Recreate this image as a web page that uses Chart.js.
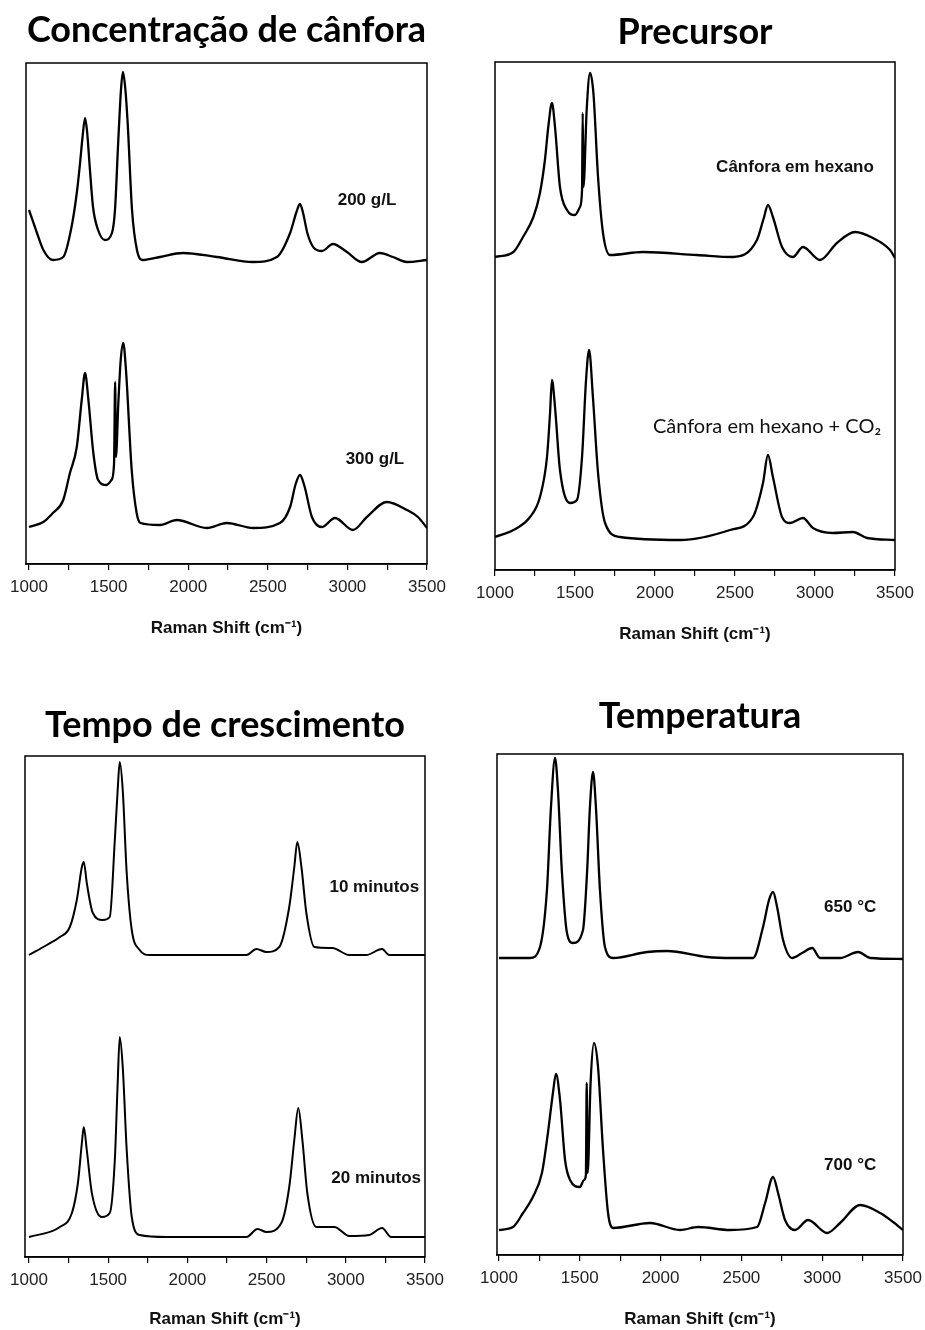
<!DOCTYPE html>
<html>
<head>
<meta charset="utf-8">
<script src="https://cdn.jsdelivr.net/npm/chart.js@4"></script>
<style>
  body { margin: 0; background: #fff; width: 925px; height: 1330px; position: relative; overflow: hidden; }
  .panel { position: absolute; }
</style>
</head>
<body>
<div class="panel" id="p1"><canvas id="c1"></canvas></div>
<div class="panel" id="p2"><canvas id="c2"></canvas></div>
<div class="panel" id="p3"><canvas id="c3"></canvas></div>
<div class="panel" id="p4"><canvas id="c4"></canvas></div>
<script>
// Raman shift (cm-1) and intensity (a.u.)
const conc200X = [1000,1050,1090,1150,1215,1267,1300,1320,1335,1352,1365,1380,1402,1434,1477,1521,1540,1560,1578,1590,1605,1620,1647,1678,1716,1822,1967,2180,2407,2557,2640,2680,2702,2720,2750,2790,2840,2909,2997,3091,3204,3286,3374,3500];
const conc200Y = [354,331,314,304,307,337,371,400,425,446,432,400,357,334,324,331,354,421,475,492,475,440,354,314,304,307,311,307,302,307,331,352,360,352,330,316,313,320,312,302,311,307,302,304];
const conc300X = [1000,1090,1150,1215,1257,1300,1331,1352,1373,1404,1434,1487,1518,1534,1541,1546,1561,1576,1592,1609,1645,1676,1700,1822,1928,2117,2243,2407,2576,2640,2675,2702,2730,2777,2840,2922,3035,3122,3248,3374,3443,3500];
const conc300Y = [37,42,51,64,91,117,164,191,164,111,84,79,84,100,182,107,161,204,221,194,94,51,41,39,44,36,41,36,41,57,80,89,78,47,37,46,34,47,62,54,47,36];

const hexX = [1000,1115,1175,1240,1281,1312,1333,1356,1375,1406,1450,1500,1531,1544,1548,1553,1573,1594,1615,1644,1675,1719,1925,2262,2487,2637,2680,2706,2737,2794,2862,2925,3031,3137,3250,3362,3469,3500];
const hexY = [313,318,333,353,377,410,443,467,443,383,360,355,363,380,457,383,460,497,477,393,337,315,318,315,313,330,352,365,353,323,313,323,310,327,338,332,320,312];
const hexCo2X = [1000,1115,1219,1281,1325,1344,1356,1375,1406,1469,1512,1544,1569,1588,1612,1644,1688,1781,2156,2469,2612,2675,2706,2737,2794,2844,2925,2987,3112,3237,3325,3500];
const hexCo2Y = [33,40,53,73,113,157,190,163,100,67,70,113,190,220,173,97,47,33,30,40,53,87,115,93,53,47,52,42,37,38,32,30];

const min10X = [1000,1113,1195,1258,1302,1334,1346,1365,1403,1466,1510,1542,1560,1573,1592,1617,1649,1699,1762,2373,2436,2499,2580,2643,2675,2694,2720,2751,2802,2915,3022,3129,3229,3274,3500];
const min10Y = [302,312,320,330,357,390,395,374,344,337,340,417,467,495,467,384,327,307,302,302,308,305,310,350,390,415,390,344,310,309,302,302,308,302,302];
const min20X = [1000,1195,1271,1309,1334,1346,1365,1397,1460,1510,1542,1560,1573,1592,1617,1649,1699,1869,2373,2443,2499,2593,2643,2675,2700,2726,2757,2814,2928,3022,3148,3229,3286,3500];
const min20Y = [20,30,44,74,114,130,107,64,40,44,97,174,220,190,107,40,22,20,20,28,25,34,70,117,149,117,64,30,30,21,22,29,20,20];

const t650X = [1000,1192,1254,1297,1322,1347,1365,1390,1421,1458,1520,1545,1563,1582,1600,1625,1656,1706,1916,2040,2288,2442,2572,2634,2671,2696,2721,2758,2814,2876,2938,2987,3111,3222,3297,3500];
const t650Y = [297,297,308,365,448,497,465,382,322,312,325,382,448,483,448,365,308,297,303,304,298,297,297,328,355,363,348,315,297,302,307,297,297,303,297,296];
const t700X = [1000,1087,1149,1210,1266,1303,1334,1353,1378,1409,1440,1501,1526,1538,1543,1549,1567,1588,1613,1644,1675,1706,1935,2120,2232,2430,2597,2647,2696,2727,2770,2832,2913,3030,3111,3235,3359,3439,3500];
const t700Y = [25,28,42,58,82,122,162,181,155,95,75,68,75,80,172,82,172,212,188,105,42,27,32,25,28,25,28,52,78,62,35,25,35,22,32,50,42,33,25];

const titles = ["Concentração de cânfora", "Precursor", "Tempo de crescimento", "Temperatura"];
const xTicks = [1000, 1250, 1500, 1750, 2000, 2250, 2500, 2750, 3000, 3250, 3500];
const xLabels = [1000, 1500, 2000, 2500, 3000, 3500];

const bold = "bold 17px 'Liberation Sans', Arial, sans-serif";
const panels = [
  { id: "c1", box: {x: 0, y: 0, w: 460, h: 650}, area: {l: 26, r: 427, t: 63, b: 564}, titleY: 30, xTitleY: 628, xMin: 981, yMax: 501, lw: 2.3,
    series: [[conc200X, conc200Y], [conc300X, conc300Y]],
    notes: [{text: "200 g/L", x: 3123, y: 364, font: bold}, {text: "300 g/L", x: 3173, y: 105, font: bold}] },
  { id: "c2", box: {x: 460, y: 0, w: 465, h: 650}, area: {l: 495, r: 895, t: 62, b: 570}, titleY: 32, xTitleY: 634, xMin: 1000, yMax: 508, lw: 2.3,
    series: [[hexX, hexY], [hexCo2X, hexCo2Y]],
    notes: [{text: "Cânfora em hexano", x: 2875, y: 403, font: bold},
            {text: "Cânfora em hexano + CO₂", x: 2700, y: 143, font: "20px Lato, sans-serif"}] },
  { id: "c3", box: {x: 0, y: 680, w: 460, h: 650}, area: {l: 25, r: 425, t: 756, b: 1257}, titleY: 725, xTitleY: 1320, xMin: 975, yMax: 501, lw: 2,
    series: [[min10X, min10Y], [min20X, min20Y]],
    notes: [{text: "10 minutos", x: 3180, y: 370, font: bold}, {text: "20 minutos", x: 3192, y: 79, font: bold}] },
  { id: "c4", box: {x: 460, y: 680, w: 465, h: 650}, area: {l: 497, r: 903, t: 754, b: 1255}, titleY: 716, xTitleY: 1320, xMin: 988, yMax: 501, lw: 2.3,
    series: [[t650X, t650Y], [t700X, t700Y]],
    notes: [{text: "650 °C", x: 3173, y: 348, font: bold}, {text: "700 °C", x: 3173, y: 90, font: bold}] },
];

const framePlugin = {
  id: "frame",
  afterDraw(chart, args, opts) {
    const {ctx, chartArea: a, scales: {x, y}} = chart;
    ctx.save();
    ctx.strokeStyle = "#000";
    ctx.lineWidth = 1.5;
    ctx.strokeRect(a.left, a.top, a.right - a.left, a.bottom - a.top);
    ctx.fillStyle = "#111";
    ctx.textAlign = "center";
    ctx.textBaseline = "middle";
    (opts.notes || []).forEach(n => {
      ctx.font = n.font;
      ctx.fillText(n.text, x.getPixelForValue(n.x), y.getPixelForValue(n.y));
    });
    ctx.restore();
  }
};

panels.forEach((p, i) => {
  const div = document.getElementById("p" + (i + 1));
  div.style.left = p.box.x + "px";
  div.style.top = p.box.y + "px";
  div.style.width = p.box.w + "px";
  div.style.height = p.box.h + "px";

  const titleSize = 36;
  const axisH = p.box.y + p.box.h - p.area.b;
  const xTitlePad = Math.max(0, p.box.y + p.box.h - p.xTitleY - 10.2);

  new Chart(document.getElementById(p.id).getContext("2d"), {
    type: "line",
    data: {
      datasets: p.series.map(([xs, ys]) => ({
        data: xs.map((v, k) => ({x: v, y: ys[k]})),
        borderColor: "#000",
        borderWidth: p.lw,
        pointRadius: 0,
        cubicInterpolationMode: "monotone",
        fill: false,
      })),
    },
    plugins: [framePlugin],
    options: {
      responsive: true,
      maintainAspectRatio: false,
      animation: false,
      layout: {
        padding: {left: p.area.l - p.box.x, right: p.box.x + p.box.w - p.area.r, top: 0, bottom: 0}
      },
      plugins: {
        legend: { display: false },
        tooltip: { enabled: false },
        title: {
          display: true,
          text: titles[i],
          color: "#000",
          font: { family: "Lato, 'Open Sans', sans-serif", size: titleSize, weight: "bold", lineHeight: 1 },
          padding: { top: p.titleY - p.box.y - titleSize / 2, bottom: p.area.t - p.titleY - titleSize / 2 },
        },
        frame: { notes: p.notes },
      },
      scales: {
        x: {
          type: "linear",
          position: "bottom",
          min: p.xMin,
          max: 3500,
          afterBuildTicks: s => { s.ticks = xTicks.map(v => ({value: v})); },
          ticks: {
            autoSkip: false,
            maxRotation: 0,
            color: "#222",
            padding: 7,
            font: { family: "'Liberation Sans', Arial, sans-serif", size: 17 },
            callback: v => xLabels.includes(v) ? String(v) : "",
          },
          grid: { drawOnChartArea: false, drawTicks: true, tickLength: 6, color: "#000", lineWidth: 1.2 },
          border: { display: true, color: "#000", width: 1.5 },
          title: {
            display: true,
            text: "Raman Shift (cm⁻¹)",
            color: "#111",
            font: { family: "'Liberation Sans', Arial, sans-serif", size: 17, weight: "bold" },
            padding: { top: 0, bottom: xTitlePad },
          },
          afterFit: s => { s.height = axisH; s.paddingLeft = 0; s.paddingRight = 0; },
        },
        y: { display: false, min: 0, max: p.yMax },
      },
    },
  });
});
</script>
</body>
</html>
